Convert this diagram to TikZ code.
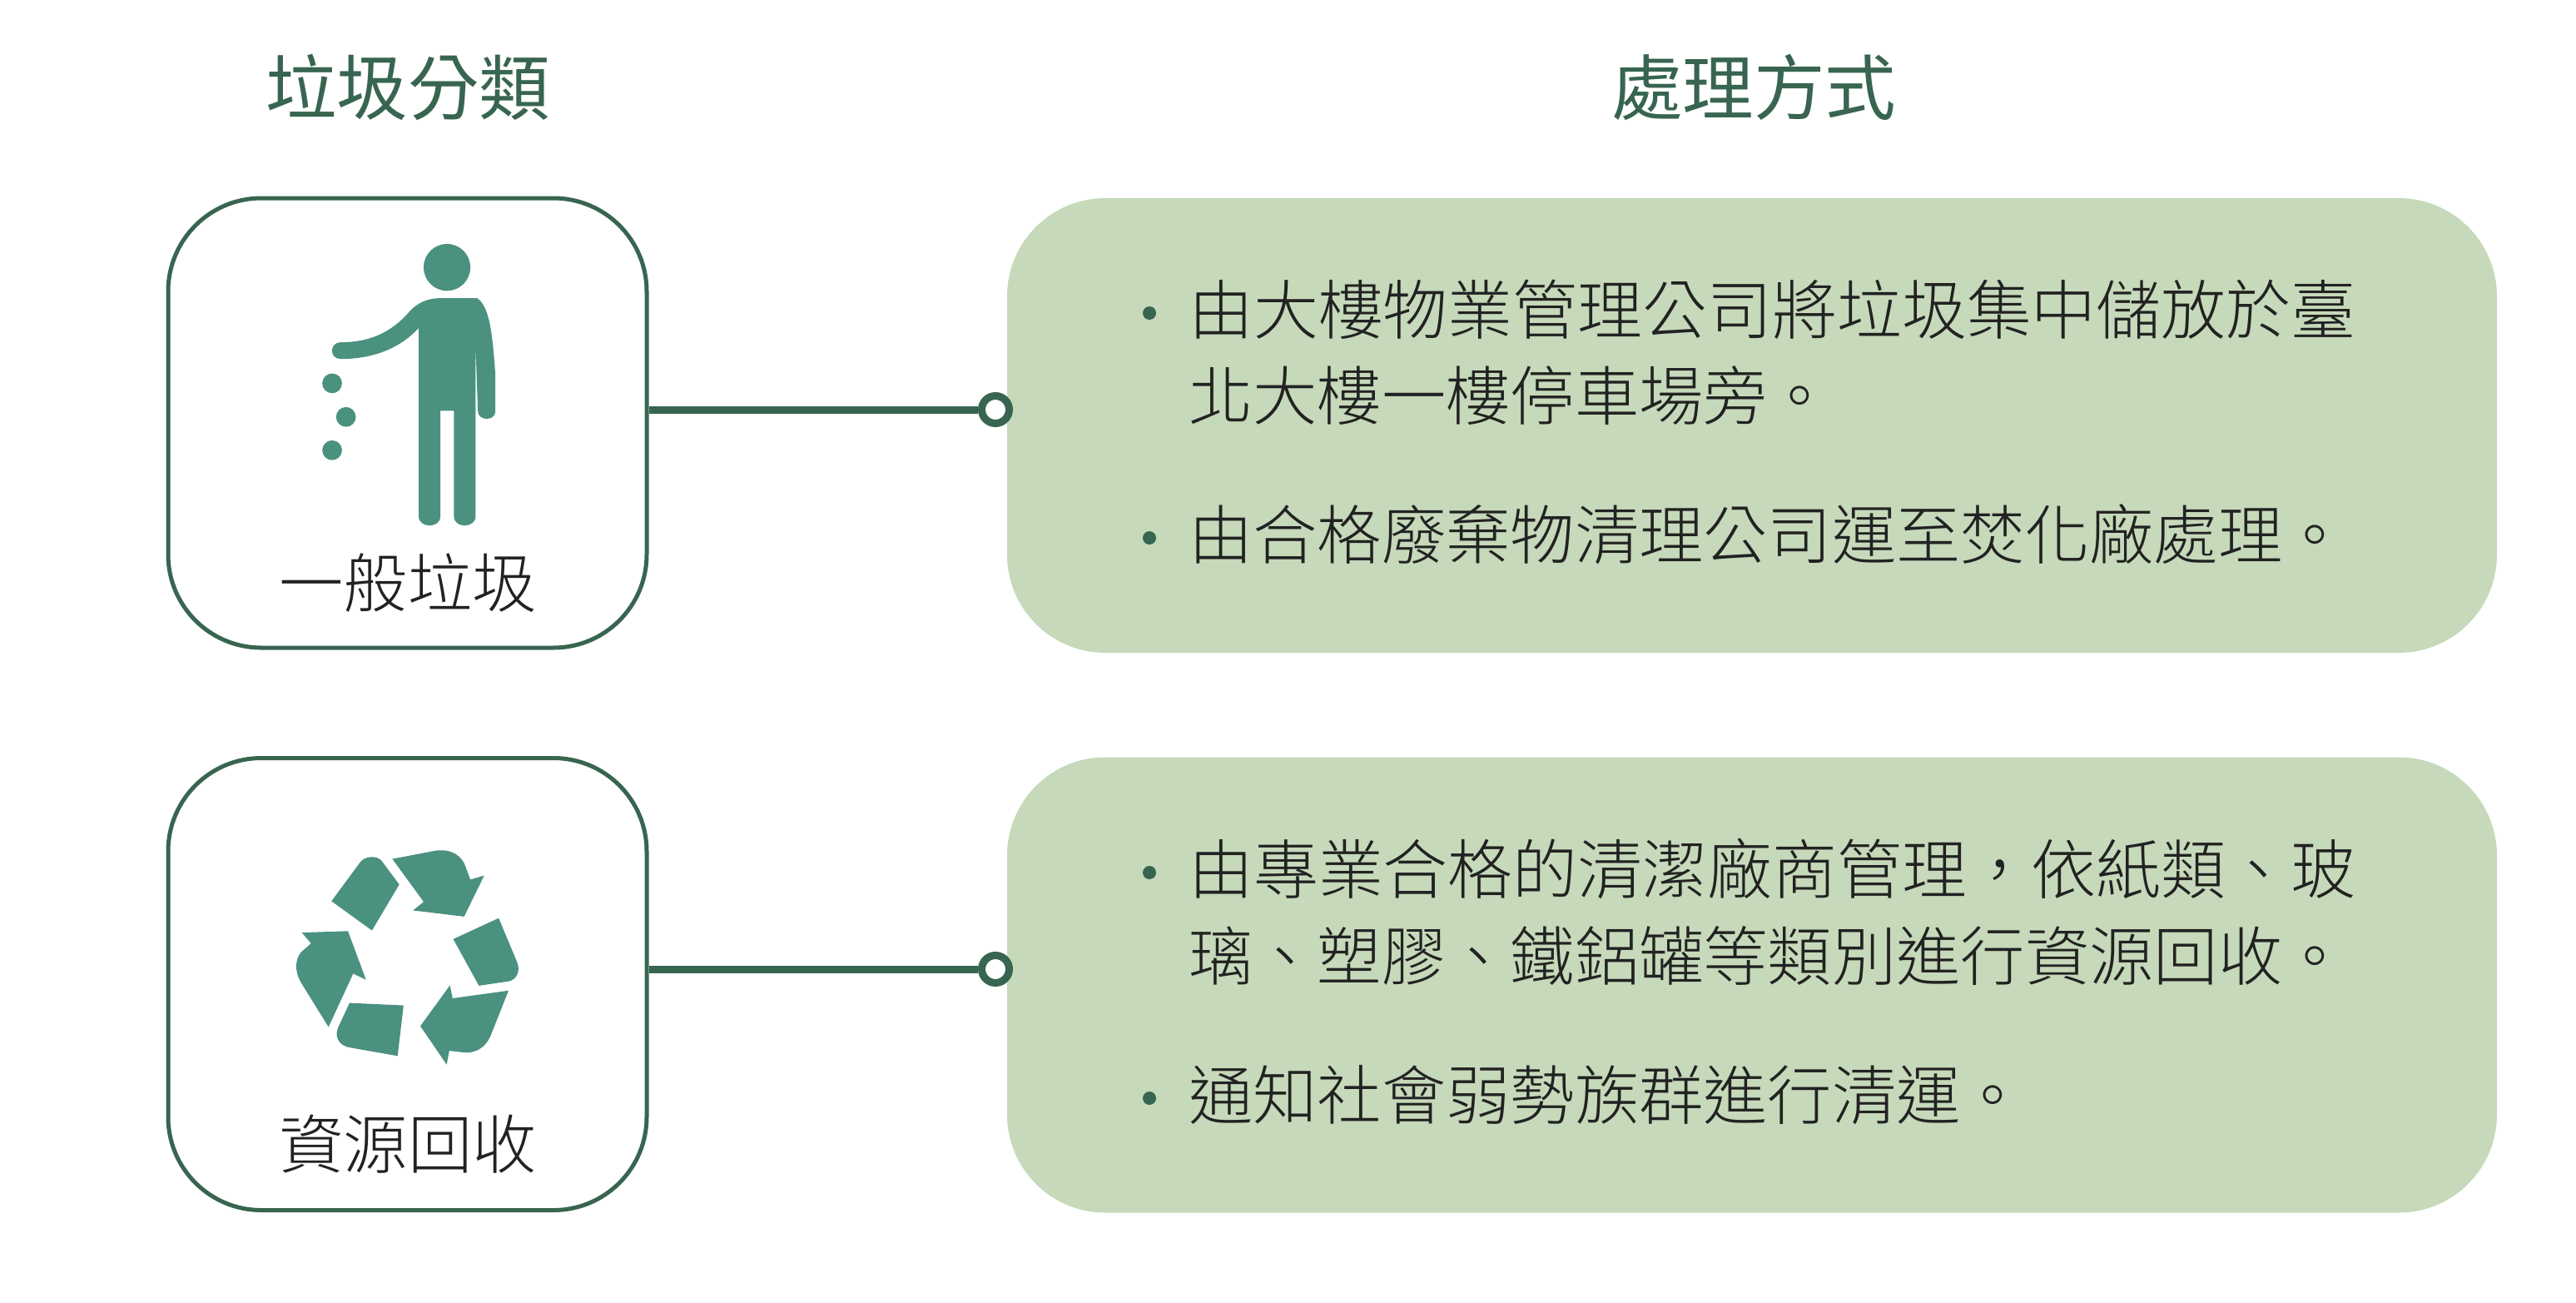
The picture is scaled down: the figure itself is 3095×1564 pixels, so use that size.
\documentclass[tikz,border=0pt]{standalone}
\usepackage{fontspec}
\newfontfamily\cjklight{Noto Sans CJK TC Light}
\newfontfamily\cjkreg{Noto Sans CJK TC}
\definecolor{dkgreen}{HTML}{386550}
\definecolor{icongreen}{HTML}{4A9180}
\definecolor{panelgreen}{HTML}{C6D9BA}
\definecolor{inktext}{HTML}{222222}
\tikzset{
  catbox/.style={draw=dkgreen,line width=5pt,fill=white,rounded corners=112pt,minimum width=575pt,inner sep=0pt},
  panel/.style={fill=panelgreen,rounded corners=118pt,minimum width=1790pt,inner sep=0pt},
  link/.style={draw=dkgreen,line width=9pt},
  ringend/.style={circle,draw=dkgreen,line width=9pt,fill=white,minimum size=33pt,inner sep=0pt},
  heading/.style={font=\cjkreg\fontsize{85.5pt}{85.5pt}\selectfont,text=dkgreen,inner sep=0pt,anchor=base},
  boxlabel/.style={font=\cjklight\fontsize{77.4pt}{77.4pt}\selectfont,text=inktext,inner sep=0pt,anchor=base},
  body/.style={font=\cjklight\fontsize{77.3pt}{77.3pt}\selectfont,text=inktext,inner sep=0pt,anchor=base west},
  bodyfull/.style={font=\cjklight\fontsize{77.9pt}{77.9pt}\selectfont,text=inktext,inner sep=0pt,anchor=base west},
  bulletdot/.style={circle,fill=dkgreen,minimum size=16pt,inner sep=0pt},
  iconfill/.style={fill=icongreen,draw=none}
}
\begin{document}
\begin{tikzpicture}[x=1pt,y=-1pt]
\useasboundingbox (0,0) rectangle (3095,1564);
\fill[white] (0,0) rectangle (3095,1564);
\node[heading] (h1) at (490,137) {垃圾分類};
\node[heading] (h2) at (2107,137) {處理方式};
\node[catbox,minimum height=540pt] (a) at (489.5,508) {};
\node[catbox,minimum height=543pt] (b) at (489.5,1182) {};
\node[panel,minimum height=546pt] (pa) at (2105,511) {};
\node[panel,minimum height=547pt] (pb) at (2105,1183) {};
\node[ringend] (ra) at (1196,492) {};
\node[ringend] (rb) at (1196,1164) {};
\draw[link] (a.east |- ra.center) -- (ra);
\draw[link] (b.east |- rb.center) -- (rb);
\node[boxlabel] (la) at (490,729) {一般垃圾};
\node[boxlabel] (lb) at (490,1403) {資源回收};
\node[bulletdot] (d1) at (1381,376) {};
\node[bulletdot] (d2) at (1381,646) {};
\node[bulletdot] (d3) at (1381,1048) {};
\node[bulletdot] (d4) at (1381,1319) {};
\node[bodyfull] (t1) at (1428,401) {由大樓物業管理公司將垃圾集中儲放於臺};
\node[body] (t2) at (1428,504) {北大樓一樓停車場旁。};
\node[body] (t3) at (1428,671) {由合格廢棄物清理公司運至焚化廠處理。};
\node[bodyfull] (t4) at (1428,1073) {由專業合格的清潔廠商管理，依紙類、玻};
\node[body] (t5) at (1428,1177) {璃、塑膠、鐵鋁罐等類別進行資源回收。};
\node[body] (t6) at (1428,1344) {通知社會弱勢族群進行清運。};
% person icon
\begin{scope}[shift={(180,220)},x=0.3954pt,y=-0.3704pt]
\fill[iconfill] (903,273) circle[x radius=71,y radius=76];
\fill[iconfill] (580,516) .. controls (660,516) and (730,490) .. (790,415)
  .. controls (815,385) and (850,373) .. (880,373) -- (995,373)
  .. controls (1030,400) and (1040,470) .. (1050,620) -- (1050,740)
  .. controls (1050,772) and (998,772) .. (997,740) -- (990,530) -- (990,1080)
  .. controls (990,1120) and (924,1120) .. (924,1080) -- (924,738) -- (883,738) -- (883,1080)
  .. controls (883,1120) and (817,1120) .. (817,1080) -- (817,470)
  .. controls (760,535) and (680,570) .. (580,570)
  .. controls (545,570) and (545,516) .. (580,516) -- cycle;
\fill[iconfill] (554,649) circle[x radius=30,y radius=32];
\fill[iconfill] (596,758) circle[x radius=30,y radius=32];
\fill[iconfill] (554,866) circle[x radius=30,y radius=32];
\end{scope}
% recycle icon
\begin{scope}[shift={(180,899)},x=0.3954pt,y=-0.3704pt]
\fill[iconfill] (552,495) -- (637,372) .. controls (650,348) and (690,345) .. (705,365) -- (758,441) -- (675,590) -- cycle;
\fill[iconfill] (737,358) -- (870,331) .. controls (920,325) and (950,350) .. (960,385) -- (974,425) -- (1016,412) -- (955,545) -- (800,525) -- (832,497) -- cycle;
\fill[iconfill] (922,618) -- (1060,550) -- (1115,690) .. controls (1128,720) and (1115,750) .. (1090,755) -- (1000,769) -- cycle;
\fill[iconfill] (1090,785) -- (1038,925) .. controls (1020,975) and (985,990) .. (950,985) -- (910,980) -- (902,1025) -- (822,900) -- (912,768) -- (920,810) -- cycle;
\fill[iconfill] (607,825) -- (771,833) -- (753,997) -- (610,970) .. controls (575,965) and (560,935) .. (572,905) -- cycle;
\fill[iconfill] (462,597) -- (602,592) -- (657,750) -- (618,730) -- (543,903) -- (460,760) .. controls (440,725) and (440,685) .. (460,660) -- (490,632) -- cycle;
\end{scope}
\end{tikzpicture}
\end{document}
